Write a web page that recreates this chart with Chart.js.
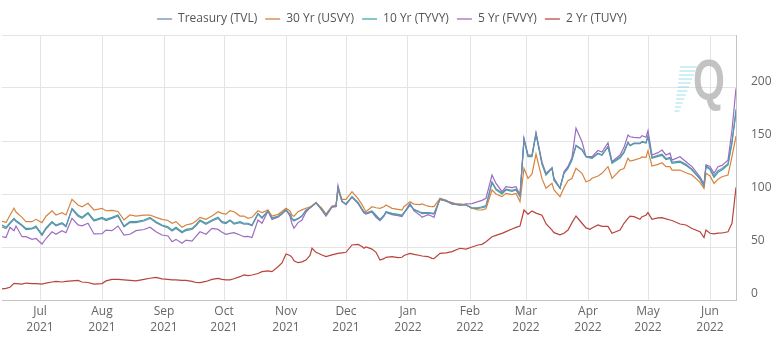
<!DOCTYPE html>
<html><head><meta charset="utf-8">
<script src="https://cdn.jsdelivr.net/npm/chart.js@4.4.0/dist/chart.umd.min.js"></script>
<style>html,body{margin:0;padding:0;background:#fff}#wrap{width:782px;height:356px;position:relative}</style>
</head><body><div id="wrap"><canvas id="c"></canvas></div>
<script>
const dates = [
'2021-06-12','2021-06-14','2021-06-16','2021-06-18','2021-06-19','2021-06-22','2021-06-24','2021-06-27','2021-06-29','2021-07-02',
'2021-07-04','2021-07-07','2021-07-09','2021-07-12','2021-07-14','2021-07-17','2021-07-20','2021-07-22','2021-07-25','2021-07-28',
'2021-08-01','2021-08-03','2021-08-06','2021-08-09','2021-08-12','2021-08-15','2021-08-18','2021-08-22','2021-08-25','2021-08-28',
'2021-08-31','2021-09-03','2021-09-05','2021-09-07','2021-09-10','2021-09-12','2021-09-15','2021-09-17','2021-09-19','2021-09-22',
'2021-09-25','2021-09-28','2021-09-30','2021-10-02','2021-10-04','2021-10-06','2021-10-09','2021-10-11','2021-10-13','2021-10-15',
'2021-10-18','2021-10-20','2021-10-23','2021-10-25','2021-10-28','2021-10-30','2021-11-01','2021-11-03','2021-11-04','2021-11-05',
'2021-11-07','2021-11-09','2021-11-11','2021-11-13','2021-11-14','2021-11-16','2021-11-19','2021-11-21','2021-11-24','2021-11-26',
'2021-11-27','2021-11-29','2021-12-01','2021-12-04','2021-12-07','2021-12-09','2021-12-10','2021-12-11','2021-12-14','2021-12-16',
'2021-12-18','2021-12-20','2021-12-21','2021-12-24','2021-12-27','2021-12-29','2021-12-30','2022-01-02','2022-01-04','2022-01-07',
'2022-01-08','2022-01-11','2022-01-13','2022-01-14','2022-01-17','2022-01-20','2022-01-23','2022-01-27','2022-01-30','2022-02-02',
'2022-02-05','2022-02-07','2022-02-09','2022-02-12','2022-02-14','2022-02-17','2022-02-19','2022-02-22','2022-02-24','2022-02-26',
'2022-02-28','2022-03-02','2022-03-04','2022-03-06','2022-03-09','2022-03-11','2022-03-14','2022-03-15','2022-03-18','2022-03-20',
'2022-03-22','2022-03-24','2022-03-26','2022-03-29','2022-03-31','2022-04-02','2022-04-03','2022-04-06','2022-04-08','2022-04-11',
'2022-04-13','2022-04-17','2022-04-19','2022-04-21','2022-04-22','2022-04-24','2022-04-27','2022-04-28','2022-04-30','2022-05-01',
'2022-05-03','2022-05-06','2022-05-08','2022-05-10','2022-05-12','2022-05-13','2022-05-17','2022-05-20','2022-05-23','2022-05-27',
'2022-05-29','2022-05-30','2022-06-01','2022-06-03','2022-06-05','2022-06-07','2022-06-10','2022-06-12','2022-06-14'];

const treasuryTVL = [
69,67.5,72,76,74,70,66.5,67,68.5,61,
67,73,70,72,69,85.5,79,77,81.5,74.5,
77,75,77,79,69,73,73,74.5,77,73,
70,68,65,67.5,63.5,65.5,66.5,70,74.5,71.5,
74.5,77,73,72,75,71.5,73,71.5,71.5,70,
81,77,84,77,78.5,81.5,84.5,80.5,76,74.5,
76.5,79,84.5,87,88.5,91.8,85,80,88,88.5,
106,93,90.5,97,91.5,85.5,83,81.5,83.5,79,
75.5,79.5,83,81,80,79.5,82,89.5,85,82.5,
81.5,82,81.5,81,95,93.5,90.6,89.6,89.8,87,
87,88,89,111.5,105,101,104.5,103.5,104.5,98,
152,136,136,157,129,118.5,125,113.5,106,120,
125,133,146,142,135.5,134.5,134,138.5,137,145,
130,135,140,149,146,148,148,149.5,148.5,155,
134.5,136.5,137.5,133.5,134.5,130,131,128,123.5,115,
108,126.5,124,117,122,124,128.5,150,176];

const yr30USVY = [
74.5,73,80,86.5,83,78,73.9,73.9,76.1,73,
79,84.2,80.2,82.4,80.2,95,89.6,88,91.2,84.9,
86.5,84.2,84.5,83.5,75.5,80.2,79.2,80,80.2,78,
76.1,75,72.4,73.9,68.6,70.8,72,74.5,78,76.1,
79.2,83.3,81.7,81,84.2,83.3,79.2,79.2,77,78,
84.2,82.4,84.9,79.2,80.8,83.5,86.5,84,80,79,
83.3,85,86.5,88,89,91.8,86.5,81,88.7,89.6,
103.8,95,95,102.2,95.6,90,86.5,83.3,88,87,
86.5,88,89.6,86.5,85.5,84.9,88,92.8,90.5,90,
90.6,88.5,88,88,95.9,94.3,90.6,90.6,89.6,86.5,
84.9,85,86,103.8,100,97.5,100.6,99.5,100.6,92.8,
124.2,114.8,119,137.7,114.5,105.4,110,103.8,97.5,106,
112.5,114.8,124.2,119.5,111.6,113,114.8,117,119.5,125.8,
114.8,122.6,124,133.7,131,132,133.7,135,134.5,140.9,
126.4,128,129.5,125.8,125.8,122.6,122.6,120,117.9,111,
105.4,119.5,117,110,114,116.3,117.9,135.2,154.7];

const yr10TYVY = [
70.8,68.6,73,77,75,70.8,67.6,67.6,69.8,62,
68,73.9,70.8,73,69.8,86.5,80.2,78,82.4,75.5,
78,76.1,78,80.2,69.8,73.9,73.9,75.5,78,73.9,
70.8,69,66,68.6,64.4,66.6,67.5,71,75.5,72.4,
75.5,78,73.9,73,75.5,72.4,73.9,72.4,72.4,70.8,
81.7,78,84.2,77.5,79,82,84.9,81,77,75.5,
77,79.5,84.9,87,88.5,91.8,85,80.2,88,88.4,
105,92.8,90.6,97.5,92,86,83.3,82,84,80,
76.1,80,83.3,81.7,80.8,80.2,82.4,89.6,85.5,83,
82.4,82.5,82,81.7,95,93.5,90.6,89.6,89.6,86.5,
86.5,87,88,110.7,104,100,103.8,102.5,103.8,97.5,
151,135.2,135.2,156.6,128,117.9,124.2,113,105.4,119.5,
124.2,132,145.3,141.5,135.2,134,133.7,138,136.5,144.6,
129,134,139,148.4,145.5,147.5,147.5,149,148,154,
133.7,135.5,136.5,132.5,133.5,129,130,127,122.6,114,
107.5,125.8,123,115.7,120.5,122.6,127.4,147.8,179.9];

const yr5FVVY = [
59.7,59,68.6,65.4,69.8,59.7,59.7,57.2,58,52.8,
58,64.4,62,65.4,63.5,77,70.8,70,72.4,62.3,
62.5,66,65.4,69.8,61.3,62,65.4,66.5,68.6,64.4,
61.3,60.4,55,57.2,53.5,56.5,55.5,60,64.4,62,
67.6,66.6,64,62,62.9,63.5,61.3,59.7,60,59,
75.5,72.4,84,76,78,81,85.5,79,72,67.6,
73,75.5,83,87,88.5,91.8,84.5,79,87.5,88,
108,93,90,97,91,85,82,81,83,78,
74.8,79,82.5,80.5,79.5,78.6,82,91.2,84,80,
78,80.5,79,78,95.9,93.5,92,89.6,90.6,91,
92.8,94,96,117.9,110,102.2,106.9,106,106.9,99,
152.5,136.8,136.8,157.9,130,119.5,124.2,115,105.4,121,
126,134.5,162,149.3,135.2,135.2,135.2,141,139.5,148.4,
130.5,136.8,144,155.7,154,153.5,153,155,153.5,159.7,
136.8,139,141.5,136.8,138.5,132,135.2,130.5,125.8,116.3,
109.4,127.4,126,119.5,125.8,127,132,160.4,199.7];

const yr2TUVY = [
10.4,11,12,15.7,15.5,15,16,15.5,15.5,15,
16,17,17.5,17,17.5,18,18.5,17,16.5,15,
15.5,18,19.5,19.5,19,18.5,18,19.5,20.5,21.4,
20,19.5,19,19,18.5,18.5,17.5,16.5,16.4,17.5,
19.5,20.4,19.5,19,19,20,22,23.6,23,23.6,
25,26.7,27.5,26.7,31.4,35,43.4,42,40.3,37,
35.2,36,37.7,42,48.8,45,42.5,41,42.5,43.5,
44,44.5,45,51.9,52.5,50.5,48.8,50,48,45,
37.7,39,40.3,41,40,40.3,42,44,43,42,
41.5,41,39.3,39,44,44.5,45.6,48.8,48,50,
51.9,52.5,55,59.7,61,62.9,64.5,67,68.5,69.8,
84.9,81,84,82,80,72,66,63.5,61.5,63,
66,73,79.2,72.4,68,66.7,68,70.8,69.5,69.5,
62.9,66,72.4,77,79.2,78.6,76.1,78.6,80,82.4,
76.1,77.5,77.7,76.5,75.5,75,71.7,70.8,67.5,64.4,
58.8,66,63,62.3,63,63.2,64.4,72.4,106.3];

const seriesNames = ['Treasury (TVL)','30 Yr (USVY)','10 Yr (TYVY)','5 Yr (FVVY)','2 Yr (TUVY)'];
const seriesColors = ['#6f8db0','#d7833f','#2fa8a3','#9c6cc2','#b9433b'];
const legendColors = ['#9fb5cc','#e2ad84','#86c6c3','#c0a3d6','#d48a85'];

const tickDates = ['2021-07-01','2021-08-01','2021-09-01','2021-10-01','2021-11-01','2021-12-01',
                   '2022-01-01','2022-02-01','2022-03-01','2022-04-01','2022-05-01','2022-06-01'];
const tickMonths = ['Jul','Aug','Sep','Oct','Nov','Dec','Jan','Feb','Mar','Apr','May','Jun'];
const tickYears = ['2021','2021','2021','2021','2021','2021','2022','2022','2022','2022','2022','2022'];
const yTickValues = [0,50,100,150,200,250];

const dayOf = s => { const p = s.split('-').map(Number); return Date.UTC(p[0], p[1]-1, p[2]) / 864e5; };
const xs = dates.map(dayOf);
const tickX = tickDates.map(dayOf);
const allSeries = [treasuryTVL, yr30USVY, yr10TYVY, yr5FVVY, yr2TUVY];

const datasets = allSeries.map((vals, i) => ({
  label: seriesNames[i],
  data: vals.map((v, j) => ({x: xs[j], y: v})),
  borderColor: seriesColors[i],
  backgroundColor: seriesColors[i],
  borderWidth: 1.2,
  pointRadius: 0,
  pointHoverRadius: 0,
  tension: 0,
  fill: false
}));

const watermark = {
  id: 'wm',
  beforeDatasetsDraw(chart) {
    const ctx = chart.ctx;
    ctx.save();
    ctx.strokeStyle = 'rgba(130,210,232,0.55)';
    ctx.lineWidth = 1.4;
    for (let i = 0; i < 12; i++) {
      const y = 67 + i * 4;
      const x1 = 697 - i * 1.6;
      const x0 = x1 - (17 - i * 1.1);
      ctx.beginPath(); ctx.moveTo(x0, y); ctx.lineTo(x1, y); ctx.stroke();
    }
    ctx.translate(709, 84);
    ctx.scale(0.72, 1);
    ctx.font = 'bold 57px "Liberation Sans", Arial, sans-serif';
    ctx.fillStyle = 'rgba(180,180,180,0.8)';
    ctx.textAlign = 'center';
    ctx.textBaseline = 'middle';
    ctx.fillText('Q', 0, 0);
    ctx.restore();
  }
};

new Chart(document.getElementById('c'), {
  type: 'line',
  data: { datasets },
  plugins: [watermark],
  options: {
    responsive: true,
    maintainAspectRatio: false,
    animation: false,
    events: [],
    layout: { padding: { top: 3, left: 2, right: 0, bottom: 0 } },
    plugins: {
      tooltip: { enabled: false },
      legend: {
        position: 'top',
        labels: {
          usePointStyle: true,
          pointStyle: 'line',
          pointStyleWidth: 15,
          padding: 8,
          color: '#555',
          font: { family: '"Open Sans", sans-serif', size: 12 },
          generateLabels: chart => chart.data.datasets.map((ds, i) => ({
            text: ds.label,
            fillStyle: legendColors[i],
            strokeStyle: legendColors[i],
            lineWidth: 2,
            pointStyle: 'line',
            fontColor: '#555',
            hidden: false,
            datasetIndex: i
          }))
        }
      }
    },
    scales: {
      x: {
        type: 'linear',
        min: xs[0],
        max: xs[xs.length - 1],
        afterBuildTicks: s => { s.ticks = tickX.map(v => ({value: v})); },
        afterFit: s => { s.height = 56; },
        ticks: {
          autoSkip: false,
          maxRotation: 0,
          padding: 4,
          color: '#666',
          font: { family: '"Open Sans", sans-serif', size: 12, lineHeight: 1.3 },
          callback: v => { const i = tickX.indexOf(v); return i < 0 ? '' : [tickMonths[i], tickYears[i]]; }
        },
        grid: { color: '#e4e4e4', drawTicks: false },
        border: { color: '#c4c4c4' }
      },
      y: {
        position: 'right',
        min: 0,
        max: 250,
        afterBuildTicks: s => { s.ticks = yTickValues.map(v => ({value: v})); },
        afterFit: s => { s.width = 46; s.paddingTop = 35; },
        ticks: {
          padding: 15,
          labelOffset: -6,
          color: '#666',
          font: { family: '"Open Sans", sans-serif', size: 12 },
          callback: v => v === 250 ? '' : String(v)
        },
        grid: { color: '#e4e4e4', drawTicks: false },
        border: { color: '#c4c4c4' }
      }
    }
  }
});
</script>
</body></html>
